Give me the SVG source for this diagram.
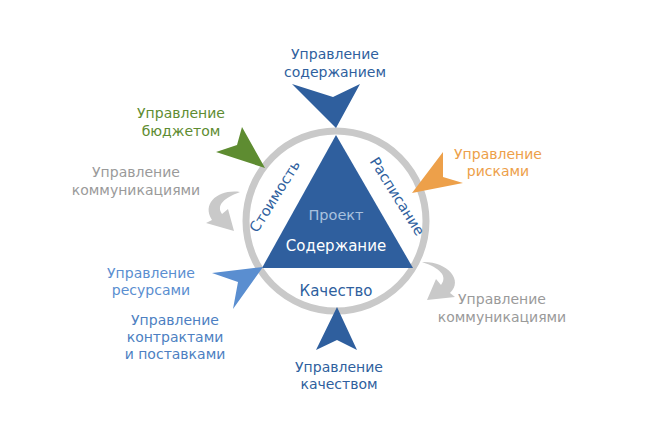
<svg xmlns="http://www.w3.org/2000/svg" width="645" height="427" viewBox="0 0 645 427">
<style>
text{font-family:"DejaVu Sans","Liberation Sans",sans-serif;font-size:14px;text-anchor:middle}
.blue{fill:#2f5f9e}
.green{fill:#5e8c31}
.gray{fill:#9a9a9a}
.orange{fill:#eda04a}
.lblue{fill:#5a8ed0}
.curv{fill:#c9c9c9}
</style>
<rect width="645" height="427" fill="#ffffff"/>
<g id="ring">
<circle cx="336" cy="221" r="90" fill="none" stroke="#c9c9c9" stroke-width="7"/>
</g>
<g id="triangle">
<polygon points="336,135 262,268 413,268" class="blue"/>
<text x="336" y="220" style="fill:#a9c1de;font-size:14.5px">Проект</text>
<text x="336" y="251" style="fill:#ffffff;font-size:15px">Содержание</text>
<text x="336" y="296" class="blue" style="font-size:15px">Качество</text>
<text transform="translate(279,199) rotate(-58)" class="blue" style="font-size:14.5px">Стоимость</text>
<text transform="translate(393,199) rotate(58)" class="blue" style="font-size:14.5px">Расписание</text>
</g>
<g id="connectors">
<polygon points="292,84 333,97 360,84 336,128" class="blue"/>
<polygon points="316,350 337,340 357,350 337,307" class="blue"/>
<polygon points="242,127 237,145 216,152 265,168" class="green"/>
<polygon points="443,152 443,177 463,183 412,193" class="orange"/>
<polygon points="212,273 238,282 233,309 263,267" class="lblue"/>
<path d="M240,192 C219,189 201,203 212,220 L206,223 L234,231 L228,209 L222,214 C216,205 224,198 240,192 Z" class="curv"/>
<path d="M422,262 C447,261 464,280 450,293 L455,297 L427,300 L436,279 L441,285 C448,276 440,268 422,262 Z" class="curv"/>
</g>
<g id="scope">
<text x="335" y="59" class="blue">Управление</text>
<text x="335" y="77" class="blue">содержанием</text>
</g>
<g id="budget">
<text x="181" y="118" class="green">Управление</text>
<text x="181" y="136" class="green">бюджетом</text>
</g>
<g id="comm-left">
<text x="136" y="177" class="gray">Управление</text>
<text x="136" y="195" class="gray">коммуникациями</text>
</g>
<g id="risks">
<text x="498" y="159" class="orange">Управление</text>
<text x="498" y="176" class="orange">рисками</text>
</g>
<g id="resources">
<text x="151" y="278" class="lblue">Управление</text>
<text x="151" y="295" class="lblue">ресурсами</text>
</g>
<g id="contracts">
<text x="175" y="325" style="fill:#4d7fc2">Управление</text>
<text x="175" y="342" style="fill:#4d7fc2">контрактами</text>
<text x="175" y="359" style="fill:#4d7fc2">и поставками</text>
</g>
<g id="comm-right">
<text x="502" y="304" class="gray">Управление</text>
<text x="502" y="322" class="gray">коммуникациями</text>
</g>
<g id="quality">
<text x="339" y="372" class="blue">Управление</text>
<text x="339" y="389" class="blue">качеством</text>
</g>
</svg>
